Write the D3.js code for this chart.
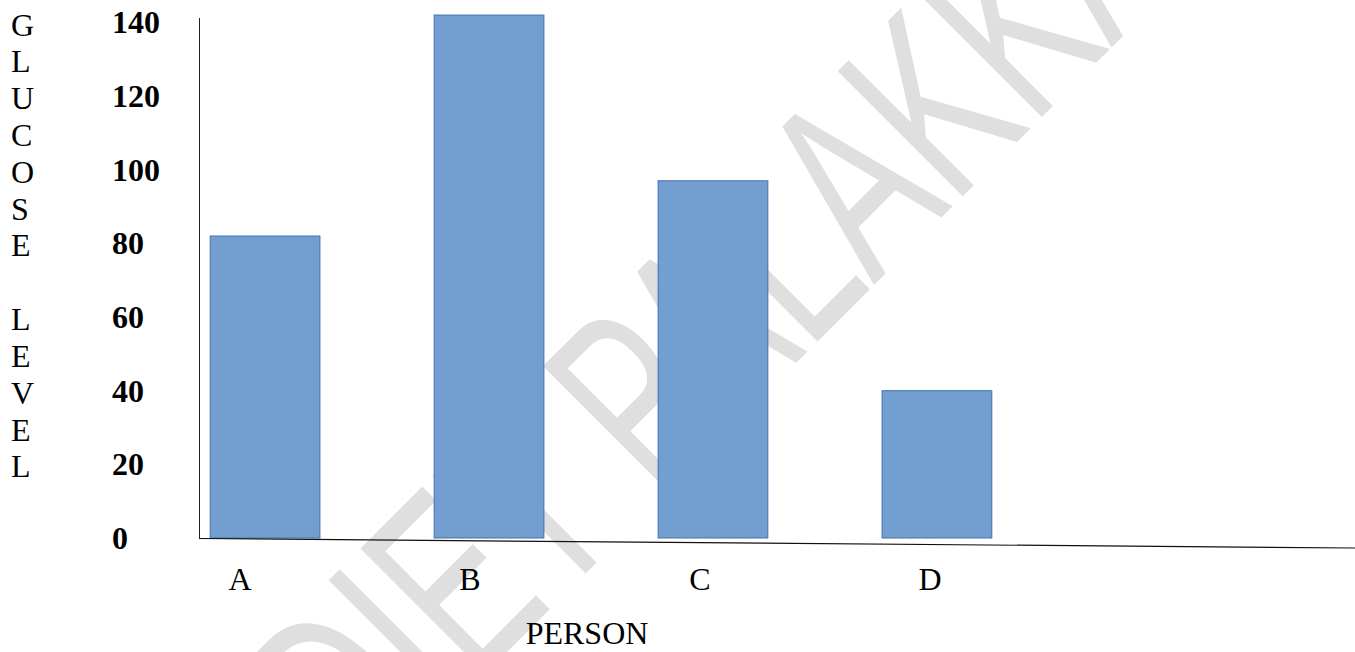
<!DOCTYPE html>
<html>
<head>
<meta charset="utf-8">
<script src="https://cdn.jsdelivr.net/npm/d3@7"></script>
<style>
  body { margin: 0; background: #fff; }
  svg { display: block; }
  .tick-label { font-family: "Liberation Serif", "Times New Roman", serif; font-weight: bold; font-size: 32px; fill: #000; }
  .cat-label, .axis-title { font-family: "Liberation Serif", "Times New Roman", serif; font-size: 32px; fill: #000; }
</style>
</head>
<body>
<div class="chart-wrapper"></div>
<script>
// chart data
const persons = ["A", "B", "C", "D"];
const glucoseLevels = [82, 142, 97, 40];
const yTicks = [0, 20, 40, 60, 80, 100, 120, 140];
const yTitle = "GLUCOSE LEVEL";
const xTitle = "PERSON";
const watermarkText = "DIET PALAKKAD";

const data = persons.map((p, i) => ({ person: p, value: glucoseLevels[i] }));

// svg size and plot box
const width = 1355, height = 652;
const margin = { top: 18, right: 0, bottom: 114, left: 199 };
const plotBottom = height - margin.bottom;
const axisMax = 141.2;

const svg = d3.select(".chart-wrapper")
    .append("svg")
    .attr("width", width)
    .attr("height", height);

svg.append("rect")
    .attr("width", width)
    .attr("height", height)
    .attr("fill", "#fff");

// faint diagonal watermark behind the chart
svg.append("text")
    .attr("transform", "translate(357,802) rotate(-45)")
    .attr("font-family", "Liberation Sans, Arial, sans-serif")
    .attr("font-size", 257)
    .attr("fill", "#dfdfdf")
    .attr("textLength", 1300)
    .attr("lengthAdjust", "spacingAndGlyphs")
    .text(watermarkText);

// scales
const yScale = d3.scaleLinear()
    .domain([0, axisMax])
    .range([plotBottom, margin.top]);

const xScale = d3.scaleBand()
    .domain(persons)
    .range([margin.left, 1003])
    .paddingInner(0.51)
    .paddingOuter(0.05);

// category labels sit a little left of the bar centres
const labelScale = d3.scalePoint()
    .domain(persons)
    .range([240, 930]);

// bars
svg.selectAll(".bar")
    .data(data)
    .enter()
    .append("rect")
    .attr("class", "bar")
    .attr("x", d => xScale(d.person))
    .attr("y", d => yScale(d.value))
    .attr("width", xScale.bandwidth())
    .attr("height", d => yScale(0) - yScale(d.value))
    .attr("fill", "#729fcf")
    .attr("stroke", "#4270b0")
    .attr("stroke-width", 1);

// y axis line
svg.append("line")
    .attr("x1", margin.left + 0.5)
    .attr("x2", margin.left + 0.5)
    .attr("y1", yScale(0))
    .attr("y2", yScale(axisMax))
    .attr("stroke", "#222")
    .attr("stroke-width", 1);

// x axis line (slightly sloped, as in the source)
svg.append("line")
    .attr("x1", margin.left)
    .attr("x2", width)
    .attr("y1", yScale(0) + 0.5)
    .attr("y2", yScale(0) + 10)
    .attr("stroke", "#111")
    .attr("stroke-width", 1.2);

// y tick labels, left aligned
svg.selectAll(".tick-label")
    .data(yTicks)
    .enter()
    .append("text")
    .attr("class", "tick-label")
    .attr("x", 112)
    .attr("y", d => yScale(d))
    .attr("dy", "0.34em")
    .attr("text-anchor", "start")
    .text(d => d);

// category labels
svg.selectAll(".cat-label")
    .data(persons)
    .enter()
    .append("text")
    .attr("class", "cat-label")
    .attr("x", d => labelScale(d))
    .attr("y", 590)
    .attr("text-anchor", "middle")
    .text(d => d);

// x axis title
svg.append("text")
    .attr("class", "axis-title")
    .attr("x", 587)
    .attr("y", 644)
    .attr("text-anchor", "middle")
    .text(xTitle);

// y axis title, one letter per line
const yTitleText = svg.append("text")
    .attr("class", "axis-title")
    .attr("x", 11)
    .attr("y", 35.5);

yTitleText.selectAll("tspan")
    .data(yTitle.split(""))
    .enter()
    .append("tspan")
    .attr("x", 11)
    .attr("y", (d, i) => 35.5 + i * (yScale(0) - yScale(10)))
    .text(d => d === " " ? "\u00a0" : d);
</script>
</body>
</html>
